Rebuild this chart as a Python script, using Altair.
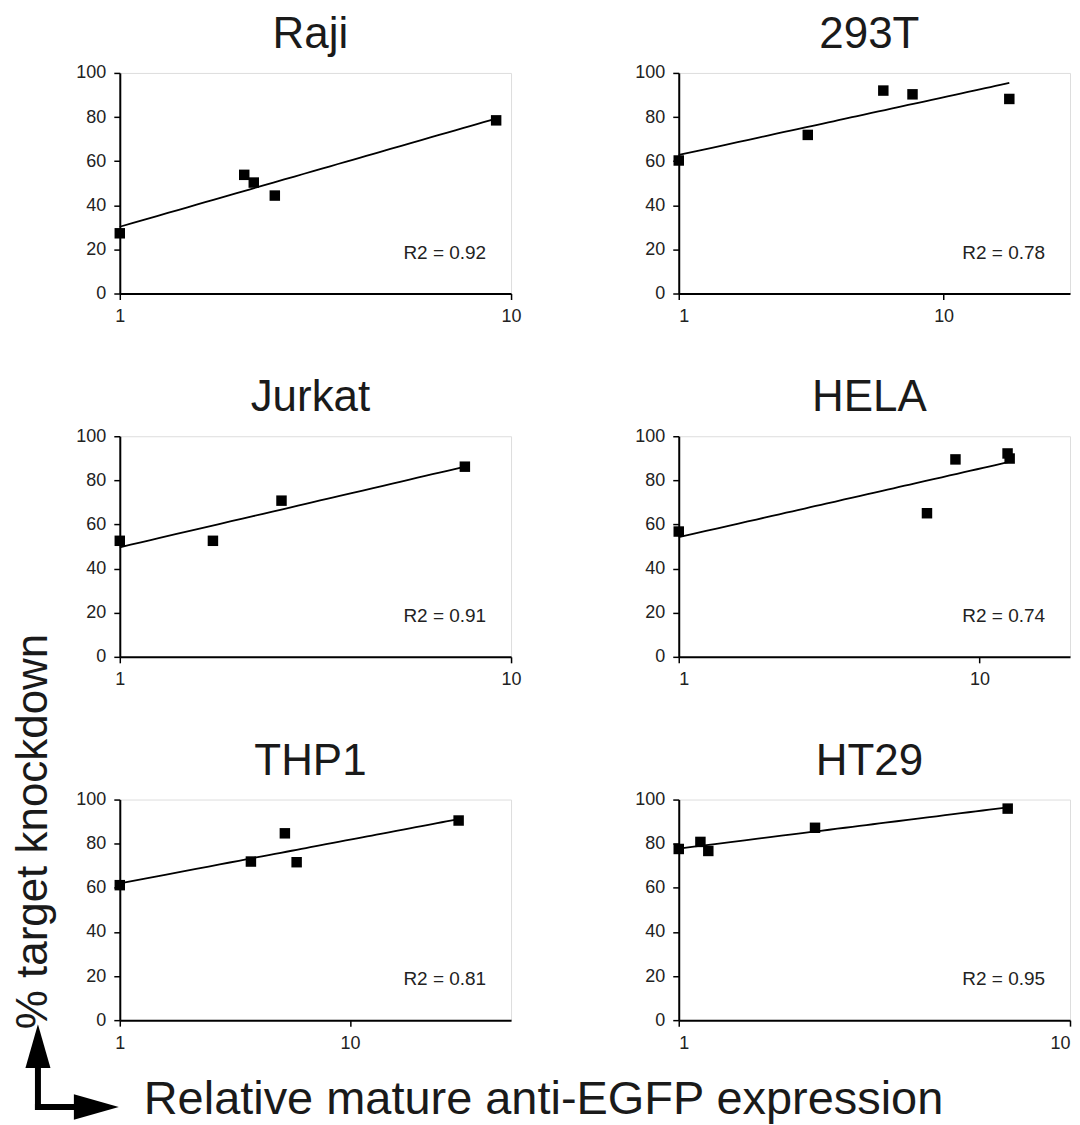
import altair as alt
import pandas as pd

FONT = "Liberation Sans"

# ---- data ----
panel_names = ["Raji", "293T", "Jurkat", "HELA", "THP1", "HT29"]
raji_x = [1.0, 2.08, 2.2, 2.49, 9.16]
raji_y = [27.3, 53.8, 50.3, 44.4, 78.5]
t293_x = [1.0, 3.07, 5.92, 7.63, 17.7]
t293_y = [60.3, 71.9, 92.0, 90.3, 88.2]
jurkat_x = [1.0, 1.73, 2.59, 7.62]
jurkat_y = [52.6, 52.6, 70.8, 86.2]
hela_x = [1.0, 6.69, 8.32, 12.4, 12.6]
hela_y = [56.8, 65.1, 89.5, 92.2, 89.9]
thp1_x = [1.0, 3.71, 5.21, 5.86, 29.6]
thp1_y = [61.2, 71.9, 84.7, 71.6, 90.5]
ht29_x = [1.0, 1.136, 1.19, 2.23, 6.93]
ht29_y = [77.6, 80.8, 76.7, 87.2, 95.9]
r2_labels = ["R2 = 0.92", "R2 = 0.78", "R2 = 0.91", "R2 = 0.74", "R2 = 0.81", "R2 = 0.95"]
x_max = [10, 30, 10, 20, 50, 10]
x_ticks = [1, 10]
y_ticks = [0, 20, 40, 60, 80, 100]
y_title = "% target knockdown"
x_title = "Relative mature anti-EGFP expression"

series = [(raji_x, raji_y), (t293_x, t293_y), (jurkat_x, jurkat_y),
          (hela_x, hela_y), (thp1_x, thp1_y), (ht29_x, ht29_y)]

W, H = 392, 221


def panel(i, annotate=False):
    xs, ys = series[i]
    df = pd.DataFrame({"x": xs, "y": ys})
    xsc = alt.Scale(type="log", domain=[1, x_max[i]], nice=False)
    ysc = alt.Scale(domain=[0, 100], nice=False)
    # right-column panels keep the last label inside the page width
    flush = (i % 2 == 1)
    xax = alt.Axis(values=x_ticks, format="d", title=None, domainColor="black",
                   domainWidth=2, tickColor="black", tickWidth=1.5, tickSize=6,
                   labelPadding=8, labelFontSize=18, labelFont=FONT,
                   labelColor="#222", grid=False, labelFlush=flush)
    yax = alt.Axis(values=y_ticks, title=None, domainColor="black",
                   domainWidth=2, tickColor="black", tickWidth=1.5, tickSize=6,
                   labelPadding=8, labelFontSize=18, labelFont=FONT,
                   labelColor="#222", grid=False, labelFlush=False)
    base = alt.Chart(df)
    line = base.transform_regression("x", "y", method="log").mark_line(
        color="black", strokeWidth=1.8
    ).encode(x=alt.X("x:Q", scale=xsc, axis=xax), y=alt.Y("y:Q", scale=ysc, axis=yax))
    pts = base.mark_square(size=110, color="black", opacity=1).encode(
        x=alt.X("x:Q", scale=xsc, axis=xax), y=alt.Y("y:Q", scale=ysc, axis=yax)
    )
    txt = alt.Chart(pd.DataFrame({"label": [r2_labels[i]]})).mark_text(
        align="right", baseline="alphabetic", fontSize=19, font=FONT, color="#222"
    ).encode(x=alt.value(W - 25), y=alt.value(H - 35), text="label:N")
    ttl = alt.Chart(pd.DataFrame({"name": [panel_names[i]]})).mark_text(
        align="center", baseline="alphabetic", fontSize=44, font=FONT, color="#1a1a1a"
    ).encode(x=alt.value(W / 2 - 5), y=alt.value(-25), text="name:N")
    layers = [line, pts, txt, ttl]
    if annotate:
        ylab = alt.Chart(pd.DataFrame({"t": [y_title]})).mark_text(
            angle=270, align="center", baseline="middle", fontSize=44,
            font=FONT, color="#1a1a1a"
        ).encode(x=alt.value(-86), y=alt.value(32), text="t:N")
        xlab = alt.Chart(pd.DataFrame({"t": [x_title]})).mark_text(
            align="left", baseline="alphabetic", fontSize=47,
            font=FONT, color="#1a1a1a"
        ).encode(x=alt.value(24), y=alt.value(315), text="t:N")
        one = pd.DataFrame({"a": [0]})
        vshaft = alt.Chart(one).mark_rule(color="black", strokeWidth=6).encode(
            x=alt.value(-82), y=alt.value(262), y2=alt.value(311))
        hshaft = alt.Chart(one).mark_rule(color="black", strokeWidth=6).encode(
            x=alt.value(-85), x2=alt.value(-40), y=alt.value(308))
        uphead = alt.Chart(one).mark_point(
            shape="M0,-1L-0.57,1L0.57,1Z", filled=True, size=1936,
            color="black", opacity=1, strokeWidth=0
        ).encode(x=alt.value(-82), y=alt.value(247))
        righthead = alt.Chart(one).mark_point(
            shape="M1,0L-1,-0.57L-1,0.57Z", filled=True, size=2025,
            color="black", opacity=1, strokeWidth=0
        ).encode(x=alt.value(-23.5), y=alt.value(308))
        layers += [ylab, xlab, vshaft, hshaft, uphead, righthead]
    return alt.layer(*layers).properties(width=W, height=H)


panels = [panel(i, annotate=(i == 4)) for i in range(6)]
chart = alt.concat(
    *panels, columns=2, spacing=alt.RowColnumber(row=143, column=168), bounds="flush"
).properties(
    padding={"left": 3, "top": 3, "right": 0, "bottom": 0}
).configure_view(stroke="transparent", strokeWidth=0).configure(background="white")

chart.save("out.html", embed_options={"renderer": "svg", "actions": False})
